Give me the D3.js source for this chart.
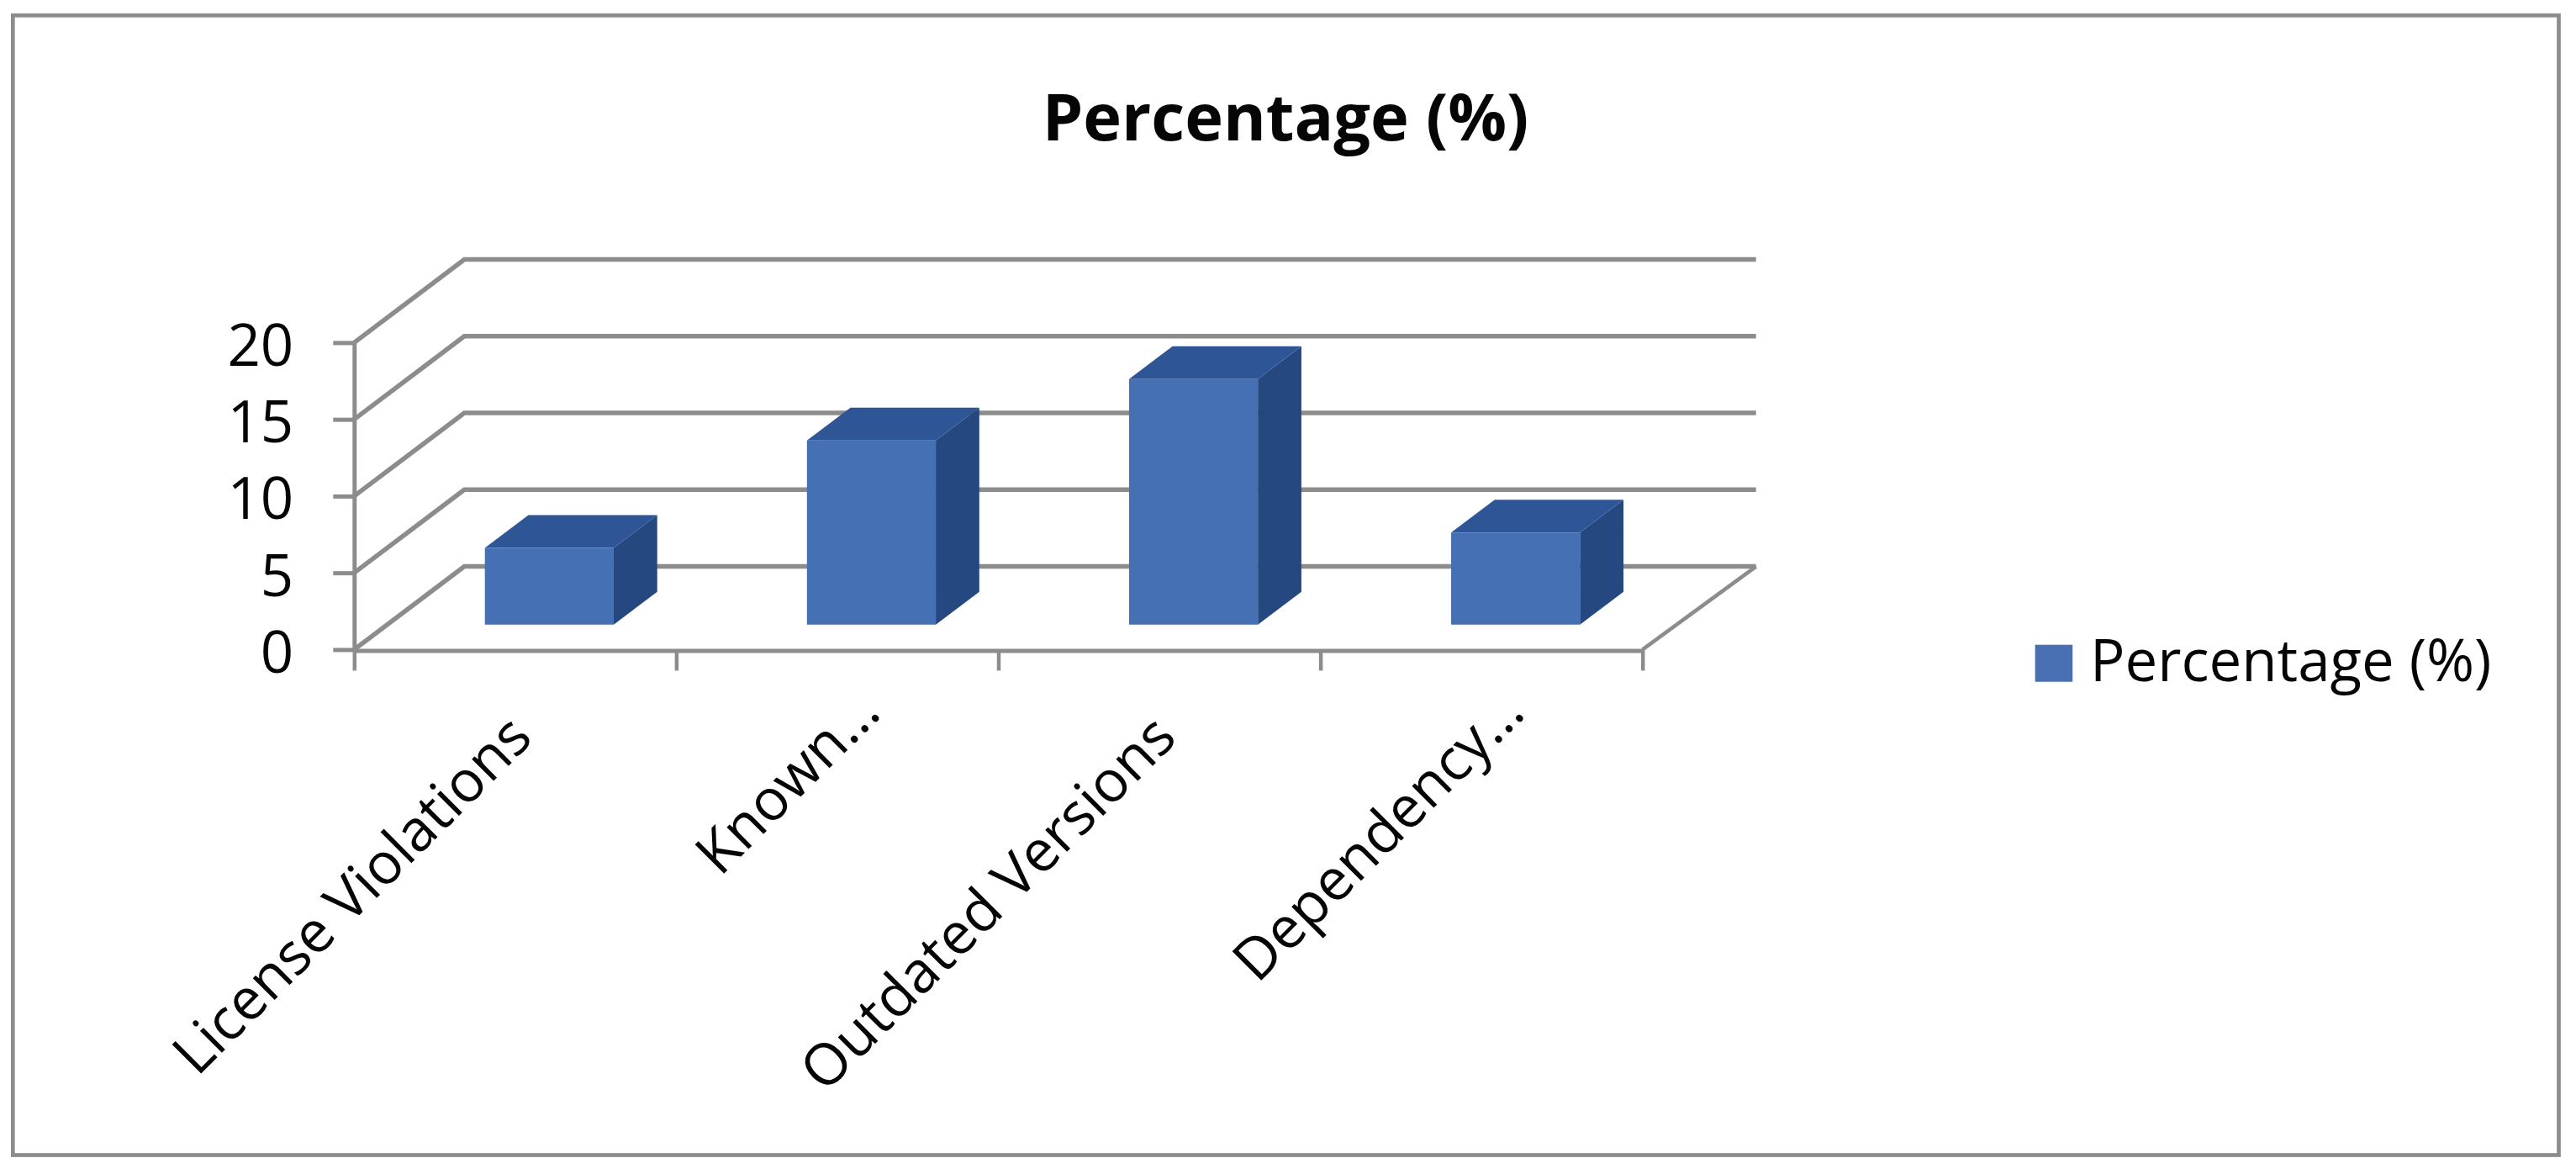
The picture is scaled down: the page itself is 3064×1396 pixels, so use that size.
<!DOCTYPE html>
<html>
<head>
<meta charset="utf-8">
<script src="https://cdn.jsdelivr.net/npm/d3@7"></script>
<style>
	body { margin: 0; background: #fff; }
	text { font-family: "Open Sans", "Noto Sans", sans-serif; fill: #050505; }
</style>
</head>
<body>
<div id="chart"></div>
<script>
const categories = ["License Violations", "Known…", "Outdated Versions", "Dependency…"];
const values = [5, 12, 16, 6];
const yTicks = [0, 5, 10, 15, 20];
const seriesName = "Percentage (%)";

const width = 3064;
const height = 1396;
const gray = "#8c8c8c";

// 3D look: how far the back wall sits from the front of the floor
const wallDx = 131;
const wallDy = -98.8;
const floorRightExtra = 4;
const barDepthFront = 0.3;
const barDepthBack = 0.695;
const barNudge = 1.2;

const svg = d3.select("#chart").append("svg").attr("width", width).attr("height", height);

const x = d3.scaleBand().domain(categories).range([421.3, 1953.7]).paddingInner(0.6).paddingOuter(0.3);
const xEdge = d3.scaleLinear().domain([0, categories.length]).range([421.3, 1953.7]);
const y = d3.scaleLinear().domain([0, 20]).range([772.4, 407.4]);

// Move a front-plane point back by a fraction of the floor depth
const project = (px, py, depth) => [px + depth * wallDx, py + depth * wallDy];
const polygon = d3.line();

// Outer border
svg.append("rect")
	.attr("x", 15.3)
	.attr("y", 18.3)
	.attr("width", 3028.2)
	.attr("height", 1355.2)
	.attr("fill", "#fff")
	.attr("stroke", gray)
	.attr("stroke-width", 4.7);

// Title
svg.append("text")
	.attr("x", 1529)
	.attr("y", 166.7)
	.attr("text-anchor", "middle")
	.attr("font-size", 77.5)
	.attr("font-weight", 700)
	.text(seriesName);

// Back wall gridlines and the diagonals on the left wall
const grid = svg.append("g").attr("class", "grid");
yTicks.forEach((t) => {
	const back = project(xEdge(0), y(t), 1);
	grid.append("path")
		.attr("d", polygon([[xEdge(0), y(t)], back, [xEdge(categories.length) + wallDx + floorRightExtra, back[1]]]))
		.attr("fill", "none")
		.attr("stroke", gray)
		.attr("stroke-width", 5.5);
});

// Right edge of the floor
const floorBack = project(xEdge(categories.length) + floorRightExtra, y(0), 1);
grid.append("path")
	.attr("d", polygon([[xEdge(categories.length), y(0)], floorBack]))
	.attr("fill", "none")
	.attr("stroke", gray)
	.attr("stroke-width", 4.5);

// Bars: side, top, then front face
const bars = svg.append("g").selectAll("g").data(categories).join("g");

bars.each(function (c, i) {
	const left = x(c) + barNudge;
	const right = left + x.bandwidth();
	const top = y(values[i]);
	const base = y(0);
	const g = d3.select(this);

	const frontPts = [
		project(left, top, barDepthFront),
		project(right, top, barDepthFront),
		project(right, base, barDepthFront),
		project(left, base, barDepthFront),
	];
	const sidePts = [
		project(right, top, barDepthFront),
		project(right, top, barDepthBack),
		project(right, base, barDepthBack),
		project(right, base, barDepthFront),
	];
	const topPts = [
		project(left, top, barDepthFront),
		project(left, top, barDepthBack),
		project(right, top, barDepthBack),
		project(right, top, barDepthFront),
	];

	g.append("path").attr("d", polygon(sidePts) + "Z").attr("fill", "#254880");
	g.append("path").attr("d", polygon(topPts) + "Z").attr("fill", "#2E5596");
	g.append("path").attr("d", polygon(frontPts) + "Z").attr("fill", "#4670B4");
});

// Y axis
const yAxis = svg.append("g")
	.attr("transform", `translate(${xEdge(0)},0)`)
	.call(d3.axisLeft(y).tickValues(yTicks).tickSize(25).tickSizeOuter(0).tickPadding(47));
yAxis.attr("font-family", null);
yAxis.select(".domain").attr("stroke", gray).attr("stroke-width", 5);
yAxis.selectAll(".tick line").attr("stroke", gray).attr("stroke-width", 5);
yAxis.selectAll(".tick text")
	.attr("font-size", 69)
	.attr("dy", 27);

// X axis, ticks sit between the categories
const xAxis = svg.append("g")
	.attr("transform", `translate(0,${y(0) + 1})`)
	.call(d3.axisBottom(xEdge).tickValues(d3.range(categories.length + 1)).tickSize(24).tickSizeOuter(0).tickFormat(""));
xAxis.select(".domain").attr("stroke", gray).attr("stroke-width", 5);
xAxis.selectAll(".tick line").attr("stroke", gray).attr("stroke-width", 4.5);

// Rotated category labels, the cut off ones end a little further up
svg.append("g")
	.selectAll("text")
	.data(categories)
	.join("text")
	.attr("text-anchor", "end")
	.attr("font-size", 68.5)
	.attr("transform", (c) => {
		const cut = c.endsWith("…");
		const px = x(c) + x.bandwidth() / 2 + (cut ? 54 : 23);
		const py = cut ? 850 : 880;
		return `translate(${px},${py}) rotate(-45)`;
	})
	.text((c) => c);

// Legend
svg.append("rect")
	.attr("x", 2420.6)
	.attr("y", 766.7)
	.attr("width", 44.6)
	.attr("height", 44)
	.attr("fill", "#4A70B4");
svg.append("text")
	.attr("x", 2486)
	.attr("y", 810)
	.attr("font-size", 69)
	.text(seriesName);
</script>
</body>
</html>
